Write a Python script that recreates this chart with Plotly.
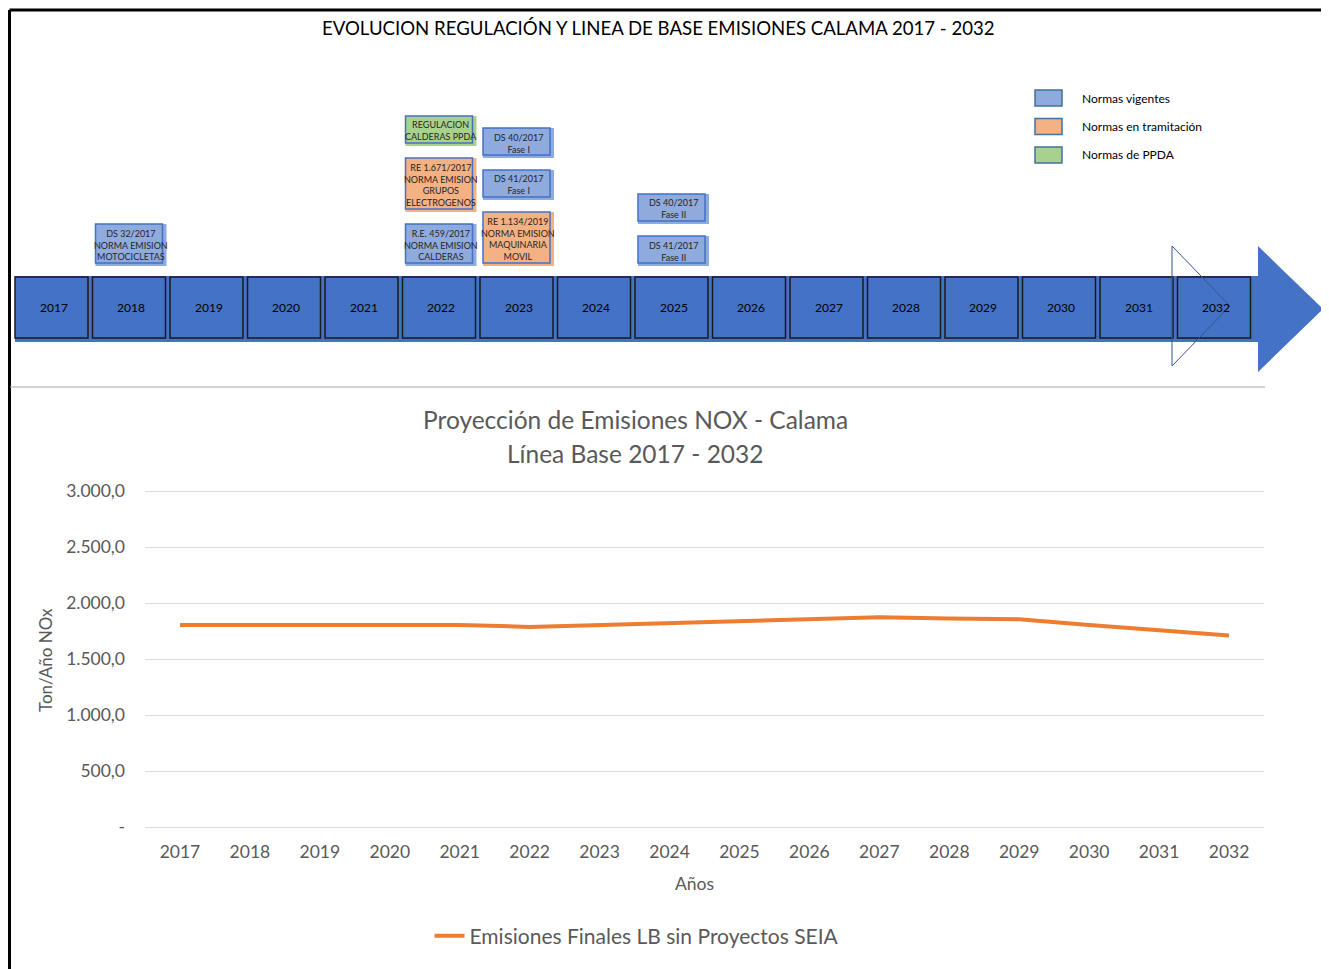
import plotly.graph_objects as go

# page body has an 8px margin, so the figure fills the rest of the window
OFF = 8
W, H = 1329 - OFF, 969 - OFF

# ---- data -------------------------------------------------------------
anios = ['2017', '2018', '2019', '2020', '2021', '2022', '2023', '2024',
         '2025', '2026', '2027', '2028', '2029', '2030', '2031', '2032']
emisiones = [1805, 1805, 1805, 1805, 1805, 1788, 1805, 1822,
             1839, 1856, 1873, 1862, 1856, 1805, 1757, 1712]

y_ticks = [0, 500, 1000, 1500, 2000, 2500, 3000]
y_ticktext = ['-', '500,0', '1.000,0', '1.500,0', '2.000,0', '2.500,0', '3.000,0']

# regulations, listed bottom to top inside each year
reg_textos = ['DS 32/2017<br>NORMA EMISION<br>MOTOCICLETAS',
              'R.E. 459/2017<br>NORMA EMISION<br>CALDERAS',
              'RE 1.671/2017<br>NORMA EMISION<br>GRUPOS<br>ELECTROGENOS',
              'REGULACION<br>CALDERAS PPDA',
              'RE 1.134/2019<br>NORMA EMISION<br>MAQUINARIA<br>MOVIL',
              'DS 41/2017<br>Fase I',
              'DS 40/2017<br>Fase I',
              'DS 41/2017<br>Fase II',
              'DS 40/2017<br>Fase II']
reg_anios = ['2018', '2022', '2022', '2022', '2023', '2023', '2023', '2025', '2025']
reg_estado = ['vigente', 'vigente', 'tramitacion', 'ppda', 'tramitacion',
              'vigente', 'vigente', 'vigente', 'vigente']

leyenda_estado = ['vigente', 'tramitacion', 'ppda']
leyenda_textos = ['Normas vigentes', 'Normas en tramitación', 'Normas de PPDA']

colores = {'vigente': '#8FAADC', 'tramitacion': '#F4B183', 'ppda': '#A9D18E'}
AZUL = '#4472C4'
GRIS = '#595959'


def px(x):
    return (x - OFF) / W


def py(y):
    return 1 - (y - OFF) / H


shapes = []
annotations = []


def rect(x0, y0, x1, y1, fill=None, line=None, width=1):
    shapes.append(dict(type='rect', xref='paper', yref='paper',
                       x0=px(x0), x1=px(x1), y0=py(y1), y1=py(y0),
                       fillcolor=fill if fill else 'rgba(0,0,0,0)',
                       line=dict(color=line if line else 'rgba(0,0,0,0)', width=width)))


def path(pts, fill=None, line=None, width=1):
    d = 'M ' + ' L '.join('%f,%f' % (px(a), py(b)) for a, b in pts) + ' Z'
    shapes.append(dict(type='path', path=d, xref='paper', yref='paper',
                       fillcolor=fill if fill else 'rgba(0,0,0,0)',
                       line=dict(color=line if line else 'rgba(0,0,0,0)', width=width)))


def text(x, y, s, size, color='black', xanchor='center', **kw):
    annotations.append(dict(x=px(x), y=py(y), xref='paper', yref='paper', text=s,
                            xanchor=xanchor, yanchor='middle', showarrow=False,
                            font=dict(size=size, color=color), **kw))


# frame
shapes.append(dict(type='line', xref='paper', yref='paper', x0=px(9.5), x1=1,
                   y0=py(10), y1=py(10), line=dict(color='black', width=3)))
shapes.append(dict(type='line', xref='paper', yref='paper', x0=px(9.5), x1=px(9.5),
                   y0=py(10), y1=0, line=dict(color='black', width=3)))
shapes.append(dict(type='line', xref='paper', yref='paper', x0=px(10), x1=px(1265),
                   y0=py(387), y1=py(387), line=dict(color='#a6a6a6', width=1)))

text(658, 28, 'EVOLUCION REGULACIÓN Y LINEA DE BASE EMISIONES CALAMA 2017 - 2032', 18.6)

# timeline arrow
path([(15, 276), (1258, 276), (1258, 246), (1323, 309), (1258, 372),
      (1258, 342), (15, 342)], fill=AZUL)

paso, ancho = 77.5, 73


def caja_x(anio):
    return 15 + anios.index(anio) * paso


for a in anios:
    x0 = caja_x(a)
    rect(x0, 277, x0 + ancho, 338, fill=AZUL, line='#1a1a1a', width=1.5)
    text(x0 + ancho / 2 + 2, 307, a, 12)

path([(1172, 246), (1230, 306), (1172, 366)], line='#2F5597', width=1)

# regulation boxes stacked above each year
base = {}
for t, a, e in zip(reg_textos, reg_anios, reg_estado):
    n = t.count('<br>') + 1
    h = 12 * n + 6
    y1 = base.get(a, 266)
    y0 = y1 - h
    base[a] = y0 - 12
    x0 = caja_x(a) + 3
    rect(x0, y0, x0 + 71, y1, fill=colores[e])
    rect(x0, y0, x0 + 67, y1 - 3, line=AZUL, width=1.5)
    text(x0 + 35, (y0 + y1) / 2, t, 9, '#262626')

# legend of the diagram
for i, (e, t) in enumerate(zip(leyenda_estado, leyenda_textos)):
    yc = 98 + i * 28.5
    rect(1035, yc - 8, 1062, yc + 8, fill=colores[e], line='#41719C', width=1.5)
    text(1080, yc, t, 12, xanchor='left')

# chart titles
text(635, 420, 'Proyección de Emisiones NOX - Calama', 24.5, GRIS)
text(635, 453, 'Línea Base 2017 - 2032', 24.5, GRIS)
text(45, 660, 'Ton/Año NOx', 17, GRIS, textangle=-90)
text(694, 883, 'Años', 17.5, GRIS)

# ---- chart ------------------------------------------------------------
fig = go.Figure()
fig.add_trace(go.Scatter(x=anios, y=emisiones, mode='lines',
                         name='Emisiones Finales LB sin Proyectos SEIA',
                         line=dict(color='#ED7D31', width=4)))

fig.update_layout(
    width=W, height=H,
    margin=dict(l=0, r=0, t=0, b=0, autoexpand=False),
    paper_bgcolor='white', plot_bgcolor='white',
    font=dict(family='Lato', color=GRIS),
    shapes=shapes, annotations=annotations,
    showlegend=True,
    legend=dict(orientation='h', x=px(637), y=py(936), xanchor='center', yanchor='middle',
                font=dict(size=21, color=GRIS)),
    xaxis=dict(domain=[px(145), px(1264)], type='category', range=[-0.5, 15.5],
               showgrid=False, showline=False, ticks='', ticklabelstandoff=12,
               tickfont=dict(size=17.5, color=GRIS), anchor='y'),
    yaxis=dict(domain=[py(827), py(489)], range=[0, 3020],
               tickvals=y_ticks, ticktext=y_ticktext,
               showgrid=True, gridcolor='#d9d9d9', gridwidth=1,
               zeroline=True, zerolinecolor='#d9d9d9', zerolinewidth=1,
               showline=False, ticks='', ticklabelstandoff=19,
               tickfont=dict(size=17.5, color=GRIS)),
)

fig.write_html('out.html')
